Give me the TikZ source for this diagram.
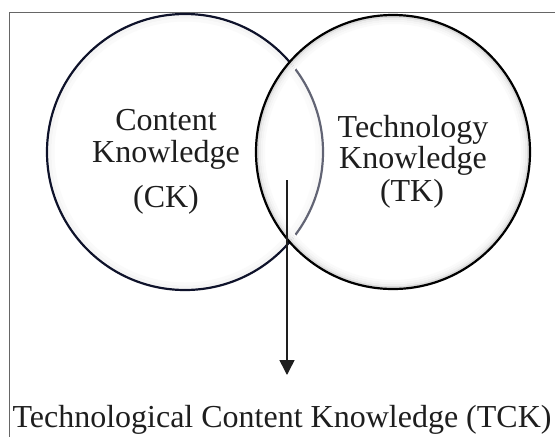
\documentclass[tikz,border=0pt]{standalone}
\usepackage{fontspec}
\setmainfont{Liberation Serif}
\usetikzlibrary{arrows.meta,calc}
\definecolor{navyline}{RGB}{14,18,42}
\definecolor{txt}{RGB}{30,30,30}
\begin{document}
\begin{tikzpicture}[x=1pt,y=-1pt,
  lbl/.style={anchor=base,inner sep=0pt,text=txt,font=\fontsize{32}{38}\selectfont},
  ring/.style={line width=2.2pt},
  frameline/.style={draw=black!60,line width=1pt},
  pointer/.style={draw=txt,line width=1.5pt,-{Triangle[length=15pt,width=15pt]}}]
\useasboundingbox (0,0) rectangle (555,437);
\fill[white] (0,0) rectangle (555,437);
% frame (right and bottom sides lie outside the picture)
\coordinate (fbl) at (9,437);
\coordinate (ftl) at (9,12);
\coordinate (ftr) at (555,12);
\draw[frameline] (fbl) -- (ftl) -- (ftr);
% circles
\coordinate (lc) at (185,152);
\coordinate (rc) at (393,152);
\fill[white] (lc) circle[radius=138pt];
\foreach \d/\c in {3/4,6/2} \draw[black!\c,line width=3pt] (lc) circle[radius=138pt-\d pt];
\draw[ring,navyline] (lc) circle[radius=138pt];
\fill[white,fill opacity=0.35] (rc) circle[radius=137pt];
\foreach \d/\c in {2/14,4/7,6/4,8/2} \draw[black!\c,line width=2pt] (rc) circle[radius=137pt-\d pt];
\draw[ring,black] (rc) circle[radius=137pt];
% labels
\node[lbl] (ck1) at (166,130) {Content};
\node[lbl] (ck2) at (166,162) {Knowledge};
\node[lbl] (ck3) at (166,207) {(CK)};
\node[lbl] (tk1) at (413,137) {Technology};
\node[lbl] (tk2) at (413,168) {Knowledge};
\node[lbl] (tk3) at (412,201) {(TK)};
\node[lbl] (tck) at (282,427) {Technological Content Knowledge (TCK)};
% arrow
\coordinate (start) at (287,180);
\coordinate (tip) at (287,375);
\draw[pointer] (start) -- (tip);
\end{tikzpicture}
\end{document}
